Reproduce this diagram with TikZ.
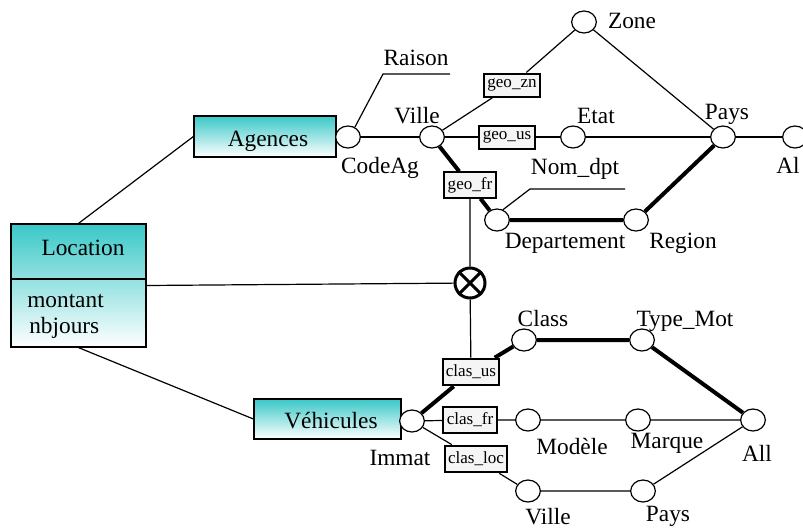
\documentclass[tikz,border=0pt]{standalone}
\usepackage{fontspec}
\setmainfont{Liberation Serif}
\usetikzlibrary{shapes.geometric}
\definecolor{tq}{RGB}{58,200,200}
\definecolor{boxgray}{RGB}{245,245,245}
\begin{document}
\begin{tikzpicture}[x=0.75pt,y=-0.75pt,
  every node/.style={font=\fontsize{17.5}{20}\selectfont},
  lbl/.style={inner sep=0pt, anchor=base},
  att/.style={ellipse, draw, fill=white, line width=0.9pt, minimum width=18.5pt, minimum height=16.5pt, inner sep=0pt},
  dimbox/.style={draw, line width=0.9pt, top color=tq, bottom color=white, inner sep=0pt},
  fnbox/.style={draw, line width=1.5pt, fill=boxgray, font=\fontsize{12.8}{14}\selectfont, inner xsep=2.5pt, inner ysep=0pt, minimum height=19pt},
  lite/.style={line width=0.9pt},
  heavy/.style={line width=3pt}
]
\clip (0,0) rectangle (803,529);
\fill[white] (0,0) rectangle (803,529);

% dimension boxes
\node[dimbox, minimum width=101.25pt, minimum height=92.25pt] (loc) at (78.5,285.5) {};
\draw[lite] (loc.west |- 0,279) -- (loc.east |- 0,279);
\node[lbl] (loct) at (83,255) {Location};
\node[lbl, anchor=base west] (mont) at (27,307) {montant};
\node[lbl, anchor=base west] (nbj) at (29,333) {nbjours};

\node[dimbox, minimum width=106.5pt, minimum height=30.75pt] (agences) at (265,136.5) {};
\node[lbl] (agt) at (268,146) {Agences};
\node[dimbox, minimum width=110.25pt, minimum height=30pt] (vehic) at (327.5,419) {};
\node[lbl] (veht) at (331,428) {Véhicules};

% attribute circles (top)
\node[att] (codeag) at (348,137) {};
\node[att] (villeA) at (432,137) {};
\node[att] (zone) at (584,22) {};
\node[att] (etat) at (573,137) {};
\node[att] (paysA) at (723,137) {};
\node[att] (al) at (795,137) {};
\node[att] (dep) at (497,220) {};
\node[att] (region) at (636,220) {};

% attribute circles (bottom)
\node[att] (immat) at (412,421) {};
\node[att] (class) at (524,340) {};
\node[att] (typemot) at (642,340) {};
\node[att] (modele) at (528,420) {};
\node[att] (marque) at (638,420) {};
\node[att] (all) at (753,420) {};
\node[att] (villeB) at (528,491) {};
\node[att] (paysB) at (643,491) {};

% function boxes
\node[fnbox, minimum height=17.25pt] (geozn) at (512,85) {geo\_zn};
\node[fnbox, minimum height=17.25pt] (geous) at (507,137) {geo\_us};
\node[fnbox] (geofr) at (470,185) {geo\_fr};
\node[fnbox, minimum height=20pt] (clasus) at (471,372) {clas\_us};
\node[fnbox, minimum height=20pt] (clasfr) at (470,420) {clas\_fr};
\node[fnbox, minimum height=20pt] (clasloc) at (476,459) {clas\_loc};

% otimes
\node[circle, draw, line width=2.25pt, minimum size=22.5pt, inner sep=0pt] (ot) at (470,283) {};
\draw[line width=2.25pt] (ot.north east) -- (ot.south west);
\draw[line width=2.25pt] (ot.north west) -- (ot.south east);

% labels
\node[lbl] (lraison) at (416,65) {Raison};
\node[lbl] (lvilleA) at (417,123) {Ville};
\node[lbl] (lcodeag) at (380,173) {CodeAg};
\node[lbl] (lzone) at (632,28) {Zone};
\node[lbl] (letat) at (596,123) {Etat};
\node[lbl] (lpaysA) at (727,119) {Pays};
\node[lbl] (lal) at (788,173) {Al};
\node[lbl] (lnom) at (575,174) {Nom\_dpt};
\node[lbl] (ldep) at (565,248) {Departement};
\node[lbl] (lregion) at (683,248) {Region};
\node[lbl] (lclass) at (543,326) {Class};
\node[lbl] (ltype) at (685,326) {Type\_Mot};
\node[lbl] (limmat) at (400,465) {Immat};
\node[lbl] (lmodele) at (572,454) {Modèle};
\node[lbl] (lmarque) at (667,448) {Marque};
\node[lbl] (lall) at (757,461) {All};
\node[lbl] (lvilleB) at (548,524) {Ville};
\node[lbl] (lpaysB) at (668,521) {Pays};

% free-end coordinates
\coordinate (r1) at (383,74);
\coordinate (r2) at (450,74);
\coordinate (n1) at (530,189);
\coordinate (n2) at (625,189);

% connectors
\draw[lite] (loc.north) -- (agences.west);
\draw[lite] (loc.south) -- (vehic.west);
\draw[lite] (loc.east) -- (ot);
\draw[lite] (geofr) -- (ot) -- (clasus);

\draw[lite] (codeag) -- (villeA);
\draw[lite] (codeag.55) -- (r1) -- (r2);
\draw[lite] (villeA) -- (geozn) -- (zone) -- (paysA);
\draw[lite] (villeA) -- (geous) -- (etat) -- (paysA) -- (al);
\draw[heavy] (villeA) -- (geofr) -- (dep) -- (region) -- (paysA);
\draw[lite] (dep.60) -- (n1) -- (n2);

\draw[heavy] (immat) -- (clasus) -- (class) -- (typemot) -- (all);
\draw[lite] (immat) -- (clasfr) -- (modele) -- (marque) -- (all);
\draw[lite] (immat) -- (clasloc) -- (villeB) -- (paysB) -- (all);
\end{tikzpicture}
\end{document}
